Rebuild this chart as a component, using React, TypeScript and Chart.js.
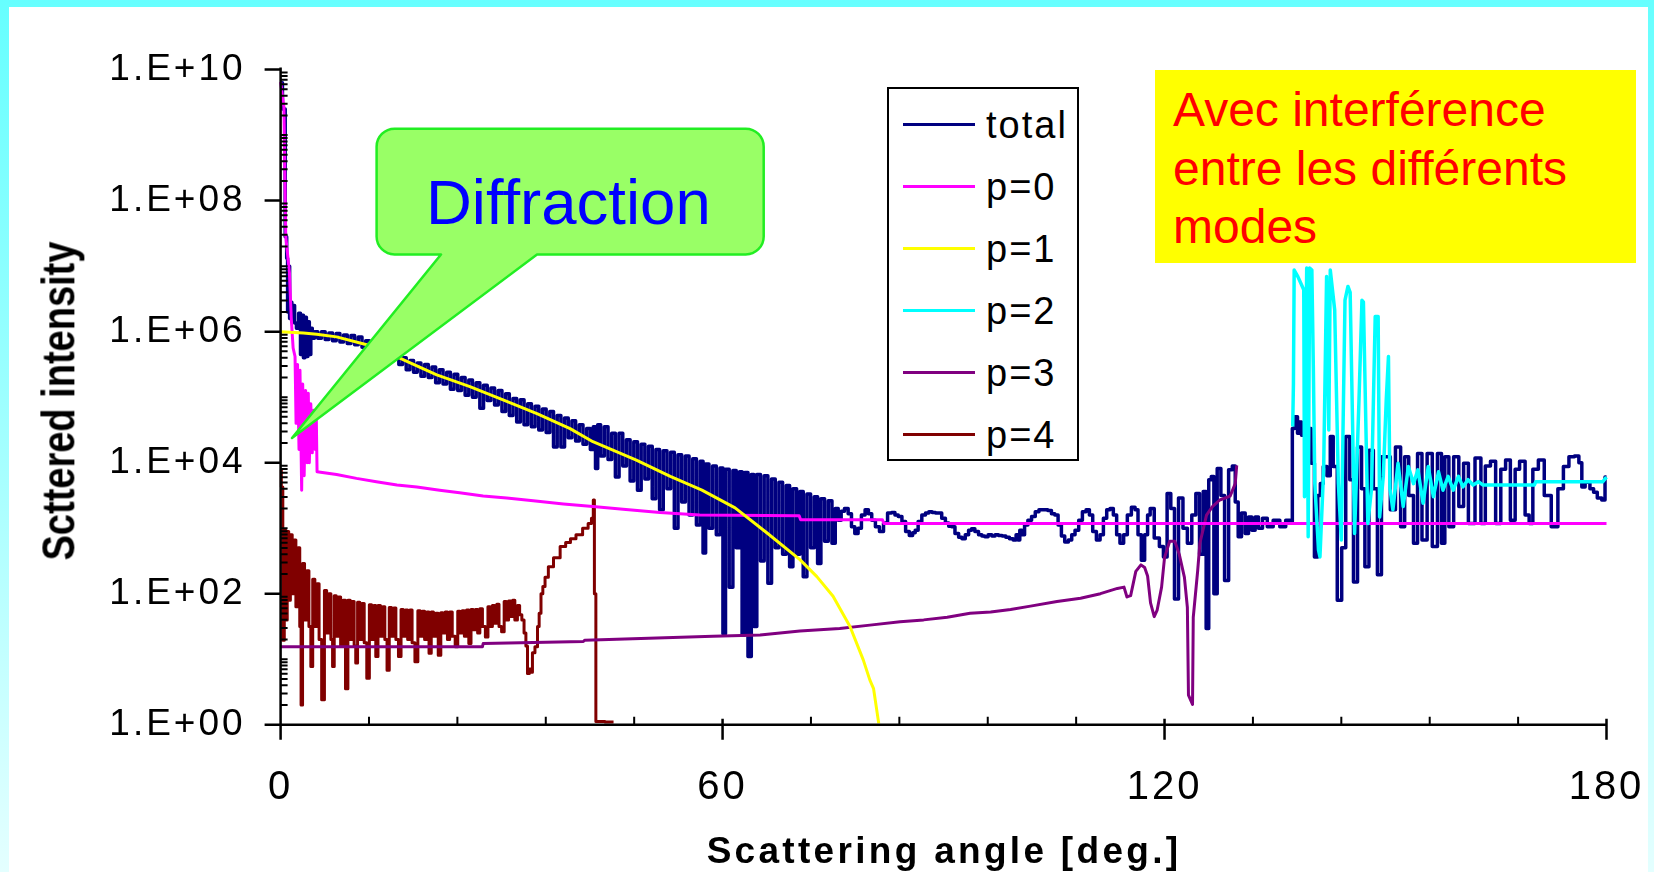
import React, { useEffect, useRef } from 'react';
import { Chart, registerables } from 'chart.js';

Chart.register(...registerables);

// Each series: [scattering angle in degrees, log10(scattered intensity)]
const total: [number, number][] = [
  [0, 9.8], [0.5, 9.4], [0.75, 7.45], [0.9, 7.12], [1.0, 6.3], [1.15, 7.0], [1.3, 6.2], [1.45, 6.45], [1.6, 6.15], [1.8, 6.4], [2.0, 6.13], [2.3, 6.05], [2.6, 6.28], [2.8, 5.65], [3.0, 6.25], [3.2, 5.6], [3.4, 6.22], [3.6, 5.62], [3.8, 6.15], [4.0, 5.65], [4.2, 6.05], [4.4, 5.9],
  [4.8, 6.0], [5.3, 5.9], [5.8, 6.0], [6.3, 5.88], [6.8, 5.98], [7.3, 5.86], [7.8, 5.97], [8.3, 5.84], [8.8, 5.95], [9.3, 5.82], [9.8, 5.94], [10.3, 5.8], [10.8, 5.92], [11.3, 5.76],
  [11.8, 5.86], [12.3, 5.72], [12.8, 5.83], [13.3, 5.68], [13.8, 5.78], [14.3, 5.62], [14.8, 5.74], [15.3, 5.58], [15.8, 5.66], [16.3, 5.5], [16.8, 5.6],
  [17.3, 5.42], [17.8, 5.56], [18.3, 5.38], [18.8, 5.52], [19.3, 5.32], [19.8, 5.5], [20.3, 5.3], [20.8, 5.46], [21.3, 5.22], [21.8, 5.42], [22.3, 5.2], [22.8, 5.38], [23.3, 5.12], [23.8, 5.35], [24.3, 5.1], [24.8, 5.3], [25.3, 5.03],
  [25.8, 5.26], [26.3, 5.0], [26.8, 5.22], [27.3, 4.83], [27.8, 5.18], [28.3, 4.95], [28.8, 5.14], [29.3, 4.88], [29.8, 5.1], [30.3, 4.78], [30.8, 5.05], [31.3, 4.72], [31.8, 4.98],
  [32.3, 4.62], [32.8, 4.96], [33.3, 4.58], [33.8, 4.9], [34.3, 4.55], [34.8, 4.86], [35.3, 4.5], [35.8, 4.82], [36.3, 4.46], [36.8, 4.78], [37.3, 4.24], [37.8, 4.72], [38.3, 4.24], [38.8, 4.68], [39.3, 4.38], [39.8, 4.64], [40.3, 4.33], [40.8, 4.58], [41.3, 4.28], [41.8, 4.52], [42.3, 4.2],
  [42.6, 4.55], [42.9, 3.91], [43.2, 4.58], [43.7, 4.1], [44.2, 4.55], [44.7, 4.05], [45.2, 4.45], [45.7, 3.78], [46.2, 4.45], [46.7, 3.95], [47.2, 4.35], [47.7, 3.72], [48.2, 4.32], [48.7, 3.58], [49.2, 4.28], [49.7, 3.75], [50.2, 4.25], [50.7, 3.45], [51.2, 4.2], [51.7, 3.28], [52.2, 4.18], [52.7, 3.6], [53.2, 4.16], [53.7, 3.0], [54.2, 4.12], [54.7, 3.4], [55.2, 4.1], [55.7, 3.2], [56.2, 4.06], [56.7, 3.05], [57.2, 4.02], [57.5, 2.62],
  [57.9, 3.98], [58.4, 3.0], [58.9, 3.95], [59.4, 2.9], [59.9, 3.92], [60.2, 1.39], [60.6, 3.9], [61.2, 2.1], [61.6, 3.88], [62.1, 2.7], [62.5, 3.86], [62.8, 1.37], [63.2, 3.85], [63.7, 1.04], [64.1, 3.82], [64.4, 1.5], [64.9, 3.82], [65.4, 2.5], [65.9, 3.8], [66.4, 2.16], [66.9, 3.75], [67.4, 2.7], [67.9, 3.7], [68.4, 2.6], [68.9, 3.65], [69.3, 2.41], [69.8, 3.6], [70.3, 2.6], [70.7, 3.56], [71.2, 2.26], [71.7, 3.52], [72.2, 2.7], [72.7, 3.48], [73.1, 2.46], [73.6, 3.45], [74.1, 2.8], [74.6, 3.42], [75.1, 2.77], [75.5, 3.3],
  [75.9, 3.12], [76.3, 3.26], [76.8, 3.3], [77.3, 3.22], [77.7, 3.02], [78.2, 2.92], [78.6, 3.0], [79.1, 3.2], [79.6, 3.28], [80.0, 3.22], [80.5, 3.12], [81.0, 3.02], [81.6, 2.95], [82.1, 3.08], [82.7, 3.23], [83.2, 3.24], [83.6, 3.2], [84.1, 3.18], [84.6, 3.1], [85.1, 2.95], [85.6, 2.89], [86.0, 2.93], [86.3, 2.97], [86.8, 3.1], [87.3, 3.2], [87.8, 3.23], [88.2, 3.25], [88.7, 3.24], [89.1, 3.23], [89.5, 3.23], [90.0, 3.15], [90.5, 3.08], [90.9, 3.03], [91.3, 3.02], [91.8, 2.92], [92.3, 2.86], [92.7, 2.84], [93.2, 2.9], [93.6, 2.97], [94.0, 2.99], [94.5, 2.95], [95.0, 2.9], [95.4, 2.88], [95.8, 2.87], [96.3, 2.9], [96.8, 2.88], [97.2, 2.9], [97.7, 2.89], [98.2, 2.88], [98.7, 2.86], [99.2, 2.84], [99.7, 2.82], [100.0, 2.9], [100.2, 2.82], [100.5, 2.97], [100.8, 2.9], [101.2, 3.05], [101.7, 3.12], [102.2, 3.18], [102.7, 3.25], [103.2, 3.28], [103.9, 3.28], [104.4, 3.27], [104.9, 3.22], [105.3, 3.2], [105.8, 3.05], [106.2, 2.88], [106.7, 2.79], [107.2, 2.82], [107.6, 2.9], [108.1, 2.97], [108.6, 3.12], [109.1, 3.25], [109.6, 3.28], [110.0, 3.2], [110.5, 2.95], [111.0, 2.82], [111.5, 2.9], [111.9, 3.15], [112.4, 3.28], [112.8, 3.3], [113.3, 3.2], [113.7, 2.9], [114.2, 2.77], [114.7, 2.9], [115.2, 3.2], [115.8, 3.32], [116.2, 3.28], [116.6, 2.9], [117.1, 2.51], [117.5, 2.9], [117.9, 3.2],
  [118.2, 3.3], [119.0, 2.85], [119.6, 2.72], [120.1, 2.56], [120.6, 3.53], [121.1, 3.3], [121.6, 1.92], [122.2, 3.46], [122.8, 3.0], [123.4, 2.77], [124.0, 3.2], [124.5, 3.53], [125.0, 2.6], [125.5, 3.56], [125.8, 1.47], [126.2, 3.74], [126.5, 3.79], [126.9, 2.0], [127.4, 3.91], [127.9, 3.5], [128.4, 2.2], [129.0, 3.89], [129.4, 3.95], [129.8, 3.4], [130.2, 2.87],
  [130.7, 3.23], [131.2, 2.92], [131.6, 3.17], [132.1, 2.97], [132.5, 3.17], [133.0, 3.0], [133.6, 3.15], [134.3, 3.02], [135.2, 3.12], [136.1, 3.02], [136.8, 3.12], [137.3, 3.1],
  [137.4, 4.52], [137.9, 4.7], [138.2, 4.45], [138.4, 4.62], [138.8, 4.42], [139.2, 4.55], [139.7, 4.52], [140.1, 3.99], [140.6, 2.56], [141.0, 3.5], [141.3, 3.68], [141.8, 3.94], [142.3, 3.8], [142.7, 4.4], [143.1, 3.94], [143.8, 1.9], [144.3, 2.7], [144.9, 4.4], [145.4, 3.74], [145.9, 2.18], [146.5, 4.24], [147.0, 3.6], [147.4, 2.41], [148.1, 4.19], [148.6, 3.6], [149.2, 2.29], [149.7, 4.09], [150.3, 4.09], [151.0, 3.28], [151.7, 4.24], [152.4, 3.02], [152.8, 4.09], [153.5, 3.5], [154.1, 2.77], [154.6, 4.14], [155.3, 2.82], [156.0, 4.14], [156.7, 2.72], [157.4, 4.14], [157.8, 2.77], [158.3, 4.09], [158.9, 3.02], [159.6, 4.09], [160.3, 3.33], [160.9, 3.99], [161.6, 3.07], [162.7, 4.07],
  [163.2, 3.07], [163.9, 3.95], [164.6, 4.02], [165.3, 3.07], [166.0, 3.9], [166.6, 4.04], [167.3, 3.12], [167.9, 3.9], [168.5, 4.02], [169.4, 3.2], [169.6, 3.07], [170.4, 3.9], [171.1, 4.04], [172.0, 3.5], [173.0, 3.02], [173.8, 3.6], [174.5, 3.94], [175.3, 4.09], [176.0, 4.1], [176.5, 4.0], [176.8, 3.63], [177.4, 3.7], [178.1, 3.6], [178.4, 3.55], [179.1, 3.46], [179.6, 3.43], [180, 3.78],
];

const p0: [number, number][] = [
  [0, 9.81], [0.45, 9.43], [0.7, 7.45], [1.2, 6.9], [1.45, 6.2], [1.7, 5.75], [1.96, 5.62], [2.1, 4.6], [2.3, 5.5], [2.5, 4.2], [2.63, 5.41], [2.86, 3.58], [3.0, 5.2], [3.2, 3.8], [3.4, 5.1], [3.6, 4.0], [3.76, 5.06], [3.9, 4.0], [4.1, 4.9], [4.3, 4.15], [4.5, 4.8], [4.7, 4.2], [4.85, 4.65], [4.95, 3.86],
  [7.6, 3.82], [10.3, 3.76], [13.0, 3.71], [15.8, 3.66], [18.5, 3.63], [21.6, 3.58], [24.3, 3.54], [27.5, 3.49], [30.7, 3.46], [34.3, 3.42], [38.4, 3.37], [42.4, 3.33], [46.5, 3.29], [51.5, 3.24], [56.9, 3.2], [70.4, 3.19], [70.6, 3.13], [81.7, 3.13], [81.9, 3.07], [180, 3.07],
];

const p1: [number, number][] = [
  [0, 6.0], [3.1, 5.98], [4.9, 5.96], [7.6, 5.92], [11.7, 5.8], [14.4, 5.69], [16.7, 5.57], [21.2, 5.34], [25.7, 5.16], [30.2, 4.96], [34.8, 4.75], [39.3, 4.52], [42.4, 4.32], [48.3, 4.04], [52.9, 3.79], [57.2, 3.58], [61.7, 3.31], [66.0, 2.93], [70.5, 2.52], [72.8, 2.26], [75.0, 1.96], [77.3, 1.5], [79.1, 0.99], [80.0, 0.68], [80.5, 0.55], [81.2, 0.02],
];

const p2: [number, number][] = [
  [137.4, 4.55], [137.5, 5.21], [137.6, 6.94], [138.1, 6.84], [138.9, 6.64], [139.0, 3.48], [139.3, 6.97], [139.5, 2.87], [139.7, 6.97], [140.0, 6.94], [140.2, 5.46], [140.4, 3.68], [140.9, 2.67], [141.1, 2.56], [141.6, 3.89], [142.0, 6.84], [142.3, 4.5], [142.5, 6.94], [143.1, 6.33], [143.6, 3.68], [144.0, 2.82], [144.5, 6.48], [144.9, 6.69], [145.2, 6.6], [145.8, 2.92], [146.4, 4.96], [146.8, 6.48], [147.0, 6.45], [147.6, 3.07], [148.1, 3.6], [148.6, 6.23], [149.0, 6.23], [149.2, 3.17], [149.7, 3.79], [150.1, 4.96], [150.4, 5.62], [150.6, 3.6], [151.0, 3.28],
  [151.7, 3.99], [152.4, 3.33], [153.1, 3.94], [153.8, 3.68], [154.4, 3.89], [155.1, 3.38], [155.8, 3.94], [156.5, 3.48], [157.2, 3.86], [157.8, 3.58], [158.5, 3.79], [159.2, 3.58], [159.9, 3.79], [160.5, 3.63], [161.2, 3.74], [161.9, 3.66], [162.6, 3.71], [163.2, 3.66], [170.2, 3.66], [170.4, 3.71], [179.5, 3.71], [180, 3.78],
];

const p3: [number, number][] = [
  [0, 1.19], [27.4, 1.19], [27.5, 1.24], [41.1, 1.27], [41.3, 1.29], [50.0, 1.32], [58.7, 1.35], [65.1, 1.37], [70.5, 1.43], [75.9, 1.47], [80.0, 1.52], [84.1, 1.57], [87.3, 1.6], [90.5, 1.64], [93.6, 1.7], [96.4, 1.72], [99.1, 1.76], [101.8, 1.81], [105.4, 1.88], [108.6, 1.93], [111.3, 2.0], [113.6, 2.08], [114.5, 2.1], [114.9, 1.95], [115.4, 1.97], [116.1, 2.34], [116.8, 2.44], [117.3, 2.4], [117.7, 2.27], [118.1, 1.86], [118.6, 1.65], [119.0, 1.75], [119.6, 2.1], [120.0, 2.55], [120.7, 2.8], [121.4, 2.8], [122.0, 2.6], [122.7, 2.25], [123.1, 1.79], [123.25, 0.45], [123.8, 0.31], [123.9, 1.64], [124.5, 2.35], [124.8, 2.77], [125.7, 3.2], [126.5, 3.33], [127.5, 3.43], [128.9, 3.49], [129.6, 3.68], [129.8, 3.96],
];

const p4: [number, number][] = [
  [0, 3.89], [0.2, 3.63], [0.4, 1.29], [0.6, 2.97], [0.8, 1.6], [1.0, 2.95], [1.2, 1.9], [1.45, 2.9], [1.7, 2.0], [1.95, 2.82], [2.2, 1.8], [2.5, 2.7], [2.7, 1.5], [2.86, 0.3], [3.1, 2.46], [3.4, 1.6], [3.7, 2.35], [3.99, 1.5], [4.22, 0.89], [4.5, 2.22], [4.8, 1.5], [5.1, 2.15], [5.35, 1.3], [5.8, 0.38], [6.1, 2.05], [6.4, 1.4], [6.7, 2.0], [6.95, 1.3], [7.16, 0.89], [7.4, 1.97], [7.7, 1.35], [8.0, 1.95], [8.3, 1.2], [8.65, 1.9], [8.97, 0.55], [9.3, 1.9], [9.6, 1.3], [9.87, 1.88], [10.1, 1.2], [10.3, 0.94], [10.6, 1.87], [10.9, 1.3], [11.2, 1.85], [11.5, 1.25], [11.9, 0.71], [12.2, 1.83], [12.5, 1.3], [12.8, 1.82], [13.04, 1.04], [13.4, 1.82], [13.7, 1.35], [14.0, 1.8], [14.3, 1.3], [14.6, 0.83], [14.9, 1.79], [15.2, 1.35], [15.5, 1.78], [15.8, 1.3], [16.2, 1.04], [16.5, 1.76], [16.8, 1.35], [17.1, 1.75], [17.4, 1.3], [17.7, 1.75], [18.0, 1.25], [18.47, 0.96], [18.8, 1.74], [19.1, 1.35], [19.4, 1.73], [19.7, 1.3], [20.0, 1.72], [20.3, 1.09], [20.6, 1.72], [20.9, 1.35], [21.2, 1.7], [21.6, 1.06], [21.9, 1.71], [22.2, 1.4], [22.5, 1.72], [22.8, 1.3], [23.1, 1.72], [23.5, 1.35], [23.9, 1.19], [24.2, 1.73], [24.5, 1.4], [24.8, 1.74], [25.1, 1.35], [25.4, 1.75], [25.7, 1.24], [26.0, 1.76], [26.3, 1.45], [26.6, 1.76], [26.9, 1.4], [27.2, 1.77], [27.6, 1.5], [28.0, 1.34], [28.3, 1.8], [28.6, 1.5], [28.9, 1.82], [29.2, 1.55], [29.5, 1.84], [29.8, 1.5], [30.2, 1.42], [30.5, 1.88], [30.8, 1.6], [31.1, 1.89], [31.4, 1.65], [31.6, 1.9], [32.0, 1.6], [32.3, 1.82], [32.6, 1.68], [32.9, 1.6], [33.2, 1.4], [33.4, 1.2], [33.63, 0.78], [33.9, 0.85], [34.08, 0.8], [34.3, 1.1], [34.76, 1.19], [35.0, 1.5], [35.2, 1.7], [35.5, 2.0], [35.7, 2.11], [36.1, 2.25], [36.6, 2.41], [37.5, 2.55], [38.4, 2.72], [39.0, 2.78], [39.7, 2.84], [40.5, 2.9], [41.5, 3.0], [42.0, 3.07], [42.4, 3.15], [42.5, 3.43], [42.7, 2.0], [42.9, 0.05], [45.2, 0.04],
];

const seriesLabels = ['total', 'p=0', 'p=1', 'p=2', 'p=3', 'p=4'];
const seriesColors = ['#000080', '#FF00FF', '#FFFF00', '#00FFFF', '#800080', '#800000'];
const seriesData = [total, p0, p1, p2, p3, p4];
const seriesOrder = [6, 3, 2, 1, 4, 5];
const seriesStepped: (false | 'middle')[] = ['middle', false, false, false, false, 'middle'];
const seriesWidths = [3.5, 3, 3, 3.5, 3, 3];

const xTickValues = [0, 60, 120, 180];
const xMinorTickValues = [12, 24, 36, 48, 72, 84, 96, 108, 132, 144, 156, 168];
const yTickExponents = [0, 2, 4, 6, 8, 10];
const yTickLabels = ['1.E+00', '1.E+02', '1.E+04', '1.E+06', '1.E+08', '1.E+10'];

const xTitle = 'Scattering angle [deg.]';
const yTitle = 'Scttered intensity';
const noteLines = ['Avec interférence', 'entre les différents', 'modes'];
const calloutText = 'Diffraction';

const FONT = "'Liberation Sans', Arial, Helvetica, sans-serif";

const spacingPlugin = {
  id: 'letterSpacing',
  beforeDraw(chart: any) {
    chart.ctx.letterSpacing = '3px';
  },
};

const axisPlugin = {
  id: 'axisMarks',
  afterDatasetsDraw(chart: any) {
    const { ctx, chartArea, scales } = chart;
    const { left, right, top, bottom } = chartArea;
    const x = scales.x;
    const y = scales.y;
    ctx.save();
    ctx.strokeStyle = '#000';
    ctx.lineCap = 'butt';
    ctx.lineWidth = 2.5;
    ctx.beginPath();
    ctx.moveTo(left, top - 2);
    ctx.lineTo(left, bottom + 1);
    ctx.moveTo(left - 1, bottom);
    ctx.lineTo(right, bottom);
    for (const e of yTickExponents) {
      const py = y.getPixelForValue(Math.pow(10, e));
      ctx.moveTo(left - 16, py);
      ctx.lineTo(left, py);
    }
    for (const v of xTickValues) {
      const px = x.getPixelForValue(v);
      ctx.moveTo(px, bottom - 6);
      ctx.lineTo(px, bottom + 15);
    }
    ctx.stroke();
    ctx.lineWidth = 2;
    ctx.beginPath();
    for (let k = 0; k < 10; k++) {
      for (let m = 1; m <= 9; m++) {
        if (m === 1 && k % 2 === 0) continue;
        const py = y.getPixelForValue(m * Math.pow(10, k));
        ctx.moveTo(left, py);
        ctx.lineTo(left + 7, py);
      }
    }
    for (const v of xMinorTickValues) {
      const px = x.getPixelForValue(v);
      ctx.moveTo(px, bottom - 8);
      ctx.lineTo(px, bottom);
    }
    ctx.stroke();
    ctx.restore();
  },
};

export default function App() {
  const canvasRef = useRef<HTMLCanvasElement>(null);

  useEffect(() => {
    const canvas = canvasRef.current;
    if (!canvas) return;
    const datasets = seriesData.map((s, i) => ({
      label: seriesLabels[i],
      data: s.map(([a, e]) => ({ x: a, y: Math.pow(10, e) })),
      borderColor: seriesColors[i],
      backgroundColor: seriesColors[i],
      borderWidth: seriesWidths[i],
      pointRadius: 0,
      tension: 0,
      fill: false,
      stepped: seriesStepped[i],
      borderJoinStyle: 'round' as const,
      order: seriesOrder[i],
      clip: 6,
    }));
    const chart = new Chart(canvas, {
      type: 'line',
      data: { datasets },
      options: {
        animation: false,
        responsive: false,
        maintainAspectRatio: false,
        devicePixelRatio: 1,
        layout: { padding: { left: 0, top: 69.6, right: 47.5, bottom: 0 } },
        plugins: { legend: { display: false }, tooltip: { enabled: false }, title: { display: false } },
        scales: {
          x: {
            type: 'linear',
            min: 0,
            max: 180,
            afterBuildTicks: (s: any) => {
              s.ticks = xTickValues.map((v) => ({ value: v }));
            },
            afterFit: (s: any) => {
              s.height = 872 - 724.7;
            },
            ticks: {
              autoSkip: false,
              maxRotation: 0,
              padding: 0,
              color: '#000',
              font: { family: FONT, size: 40 },
            },
            grid: { display: false, drawTicks: true, tickLength: 39 },
            border: { display: false },
          },
          y: {
            type: 'logarithmic',
            min: 1,
            max: 1e10,
            afterBuildTicks: (s: any) => {
              s.ticks = yTickExponents.map((e) => ({ value: Math.pow(10, e) }));
            },
            afterFit: (s: any) => {
              s.width = 280.6;
            },
            ticks: {
              autoSkip: false,
              padding: 35,
              color: '#000',
              font: { family: FONT, size: 37 },
              callback: (_v: any, i: number) => yTickLabels[i],
            },
            grid: { display: false, drawTicks: false },
            border: { display: false },
          },
        },
      },
      plugins: [spacingPlugin, axisPlugin],
    } as any);
    return () => chart.destroy();
  }, []);

  const L = 376.6, T = 128.7, R = 763.7, B = 254.5, r = 18;
  const calloutPath = `M ${L + r} ${T} H ${R - r} A ${r} ${r} 0 0 1 ${R} ${T + r} V ${B - r} A ${r} ${r} 0 0 1 ${R - r} ${B} H 537 L 292 438 L 441 ${B} H ${L + r} A ${r} ${r} 0 0 1 ${L} ${B - r} V ${T + r} A ${r} ${r} 0 0 1 ${L + r} ${T} Z`;

  return (
    <div
      style={{
        position: 'fixed',
        left: 0,
        top: 0,
        width: 1654,
        height: 872,
        overflow: 'hidden',
        background: 'linear-gradient(180deg, #66ffff 0%, #a8ffff 55%, #e4ffff 100%)',
        fontFamily: FONT,
      }}
    >
      <div style={{ position: 'absolute', left: 9, top: 7, width: 1639, height: 870, background: '#fff' }} />
      <canvas ref={canvasRef} width={1654} height={872} style={{ position: 'absolute', left: 0, top: 0, width: 1654, height: 872 }} />

      <div
        style={{
          position: 'absolute',
          left: 59,
          top: 401,
          transform: 'translate(-50%, -50%) rotate(-90deg) scaleY(1.22)',
          fontSize: 38,
          fontWeight: 'bold',
          lineHeight: '38px',
          whiteSpace: 'nowrap',
          color: '#000',
        }}
      >
        {yTitle}
      </div>
      <div
        style={{
          position: 'absolute',
          left: 944,
          top: 832,
          transform: 'translateX(-50%)',
          fontSize: 37,
          fontWeight: 'bold',
          lineHeight: '37px',
          letterSpacing: '3.3px',
          whiteSpace: 'nowrap',
          color: '#000',
        }}
      >
        {xTitle}
      </div>

      <div
        style={{
          position: 'absolute',
          left: 887,
          top: 87,
          width: 192,
          height: 374,
          boxSizing: 'border-box',
          border: '2.5px solid #000',
          background: '#fff',
        }}
      />
      {seriesLabels.map((lab, i) => (
        <React.Fragment key={lab}>
          <div
            style={{
              position: 'absolute',
              left: 903,
              top: 124.5 + i * 62 - 1.5,
              width: 72,
              height: 3,
              background: seriesColors[i],
            }}
          />
          <div
            style={{
              position: 'absolute',
              left: 986,
              top: 124.5 + i * 62 - 19,
              fontSize: 38,
              lineHeight: '38px',
              letterSpacing: '2px',
              whiteSpace: 'nowrap',
              color: '#000',
            }}
          >
            {lab}
          </div>
        </React.Fragment>
      ))}

      <div style={{ position: 'absolute', left: 1155, top: 70, width: 481, height: 193, background: '#ffff00' }} />
      <div
        style={{
          position: 'absolute',
          left: 1173,
          top: 81,
          fontSize: 48,
          lineHeight: '58.5px',
          color: '#ff0000',
          whiteSpace: 'pre',
        }}
      >
        {noteLines.join('\n')}
      </div>

      <svg width={1654} height={872} style={{ position: 'absolute', left: 0, top: 0, pointerEvents: 'none' }}>
        <path d={calloutPath} fill="#99ff66" stroke="#22ee22" strokeWidth={2.5} strokeLinejoin="round" />
      </svg>
      <div
        style={{
          position: 'absolute',
          left: 426,
          top: 171,
          fontSize: 63.5,
          lineHeight: '63.5px',
          color: '#0000ff',
          whiteSpace: 'nowrap',
        }}
      >
        {calloutText}
      </div>
    </div>
  );
}
